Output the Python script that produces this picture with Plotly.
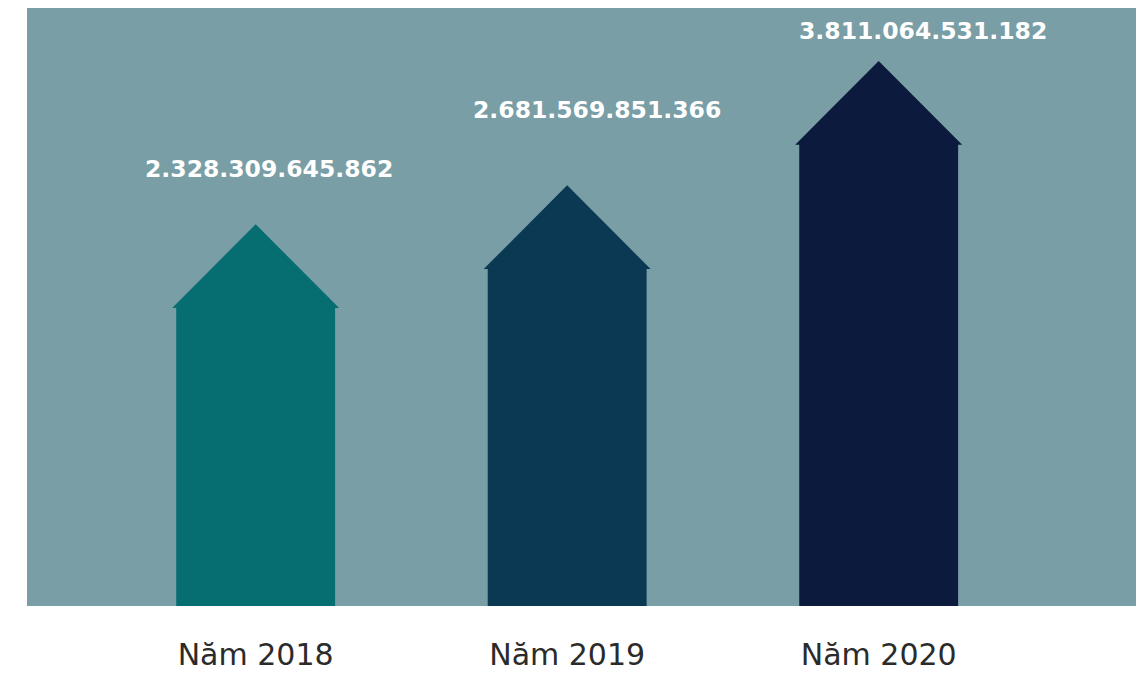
import plotly.graph_objects as go

categories = ["Năm 2018", "Năm 2019", "Năm 2020"]
values = [2328309645862, 2681569851366, 3811064531182]
value_labels = ["2.328.309.645.862", "2.681.569.851.366", "3.811.064.531.182"]
colors = ["#066E70", "#0B3954", "#0B1A3D"]

# style / geometry settings (not data)
y_min, y_max = -1.138e12, 4.292e12
body_half = 0.255
head_half = 0.268
head_h = 0.76e12
label_yshift = [55, 75, 30]
label_xshift = [13, 30, 44]

fig = go.Figure()
for i, (v, c) in enumerate(zip(values, colors)):
    base = v - head_h
    xs = [i - body_half, i - body_half, i - head_half, i, i + head_half,
          i + body_half, i + body_half, i - body_half]
    ys = [y_min, base, base, v, base, base, y_min, y_min]
    fig.add_trace(go.Scatter(x=xs, y=ys, fill="toself", fillcolor=c, mode="lines",
                             line=dict(color=c, width=0), hoverinfo="skip",
                             showlegend=False))
    fig.add_annotation(x=i, y=v, text=value_labels[i], showarrow=False,
                       yshift=label_yshift[i], xshift=label_xshift[i], yanchor="middle",
                       font=dict(family="DejaVu Sans", size=23.5, color="white", weight="bold"))

fig.update_layout(
    width=1145, height=675,
    margin=dict(l=19, r=17, t=0, b=77),
    paper_bgcolor="white", plot_bgcolor="#799EA5",
    xaxis=dict(range=[-0.734, 2.826], tickvals=[0, 1, 2], ticktext=categories,
               showgrid=False, zeroline=False, showline=False, ticks="",
               tickfont=dict(family="DejaVu Sans", size=30, color="#2b2b2b"),
               ticklabelstandoff=28),
    yaxis=dict(range=[y_min, y_max], showgrid=False, zeroline=False,
               showticklabels=False, showline=False, ticks=""),
)
fig.write_html("out.html")
